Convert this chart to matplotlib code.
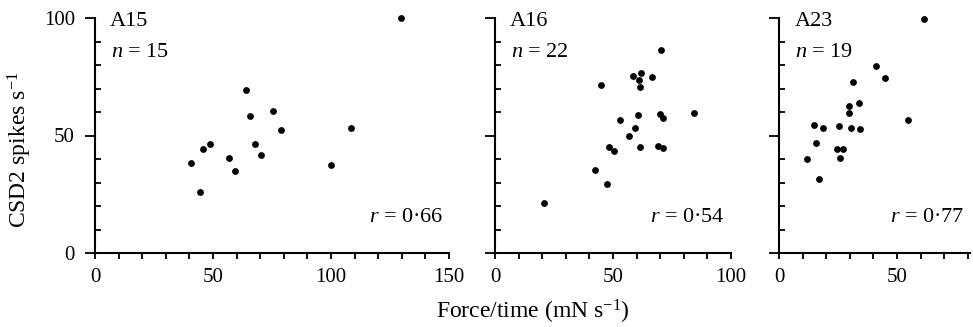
import matplotlib
matplotlib.use('Agg')
import matplotlib.pyplot as plt
from matplotlib.ticker import MultipleLocator
from matplotlib.transforms import offset_copy

plt.rcParams['font.family'] = ['Liberation Serif', 'DejaVu Serif']
plt.rcParams['mathtext.fontset'] = 'custom'
plt.rcParams['mathtext.rm'] = 'Liberation Serif'
plt.rcParams['mathtext.it'] = 'Liberation Serif:italic'

# data
a15_x = [40.5, 44.5, 45.6, 48.9, 56.6, 59.2, 64.1, 65.5, 67.9, 70.5, 75.3, 79.0, 99.9, 108.3, 129.5]
a15_y = [38.2, 25.8, 44.3, 46.4, 40.4, 35.0, 69.4, 58.3, 46.4, 41.6, 60.6, 52.5, 37.4, 53.0, 100.0]

a16_x = [20.9, 42.4, 44.8, 47.3, 48.2, 50.3, 52.8, 56.9, 59.2, 58.6, 61.7, 61.1, 61.4,
         60.5, 61.4, 66.5, 70.2, 69.8, 71.2, 69.0, 71.0, 84.2]
a16_y = [21.1, 35.3, 71.5, 29.4, 44.9, 43.4, 56.7, 49.9, 53.0, 75.4, 76.8, 73.5, 70.7,
         58.9, 44.9, 75.1, 86.3, 59.0, 57.5, 45.7, 44.5, 59.4]

a23_x = [11.9, 14.7, 15.6, 16.8, 18.6, 25.2, 24.7, 27.1, 25.7, 29.4, 29.8, 30.5, 31.4, 33.9,
         34.2, 41.0, 44.7, 54.7, 61.4]
a23_y = [40.2, 54.3, 46.9, 31.3, 53.0, 53.9, 44.2, 44.2, 40.6, 62.5, 59.7, 53.2, 72.6, 63.9,
         52.9, 79.7, 74.6, 56.8, 99.6]

panels = [
    ('A15', 15, '0·66', a15_x, a15_y, 150, [0, 50, 100, 150]),
    ('A16', 22, '0·54', a16_x, a16_y, 100, [0, 50, 100]),
    ('A23', 19, '0·77', a23_x, a23_y, 81, [0, 50]),
]

W, H = 973, 327
fig = plt.figure(figsize=(W / 100, H / 100), dpi=100)

# axes boxes in pixels: left, right
boxes = [(95, 449), (495, 731), (779.3, 970)]
top, bot = 18, 253

fs_tick = 15
fs_txt = 16
fs_lab = 17
for i, (name, n, r, xs, ys, xmax, xt) in enumerate(panels):
    l, rr = boxes[i]
    ax = fig.add_axes([l / W, (H - bot) / H, (rr - l) / W, (bot - top) / H])
    ax.scatter(xs, ys, s=24, color='black', clip_on=False, zorder=3, linewidths=0)
    ax.set_xlim(0, xmax)
    ax.set_ylim(0, 100)
    for s in ['top', 'right']:
        ax.spines[s].set_visible(False)
    for s in ['left', 'bottom']:
        ax.spines[s].set_linewidth(1.5)

    ax.set_xticks(xt)
    ax.xaxis.set_minor_locator(MultipleLocator(10))
    ax.tick_params(axis='x', which='both', direction='out', length=4, width=1.3,
                   labelsize=fs_tick, pad=7)
    ax.set_yticks([0, 50, 100])
    ax.yaxis.set_minor_locator(MultipleLocator(10))
    ax.tick_params(axis='y', which='major', direction='out', length=7.5, width=1.3,
                   labelsize=fs_tick, pad=7)
    ax.tick_params(axis='y', which='minor', direction='in', length=4, width=1.3)
    if i > 0:
        ax.set_yticklabels([])

    t1 = offset_copy(ax.transAxes, fig=fig, x=15, y=-3, units='dots')
    ax.text(0, 1, name, transform=t1, ha='left', va='center', fontsize=fs_txt)
    t2 = offset_copy(ax.transAxes, fig=fig, x=16, y=-34, units='dots')
    ax.text(0, 1, '$n$ = %d' % n, transform=t2, ha='left', va='center', fontsize=fs_txt)
    t3 = offset_copy(ax.transAxes, fig=fig, x=-6, y=35, units='dots')
    ax.text(1, 0, '$r$ = ' + r, transform=t3, ha='right', va='center', fontsize=fs_txt)

fig.text(20 / W, 1 - 150 / H, 'CSD2 spikes s$^{-1}$', rotation=90, ha='center', va='center',
         fontsize=fs_lab)
fig.text(533 / W, 1 - 312 / H, 'Force/time (mN s$^{-1}$)', ha='center', va='center',
         fontsize=fs_lab)

fig.savefig('out.png', dpi=100)
